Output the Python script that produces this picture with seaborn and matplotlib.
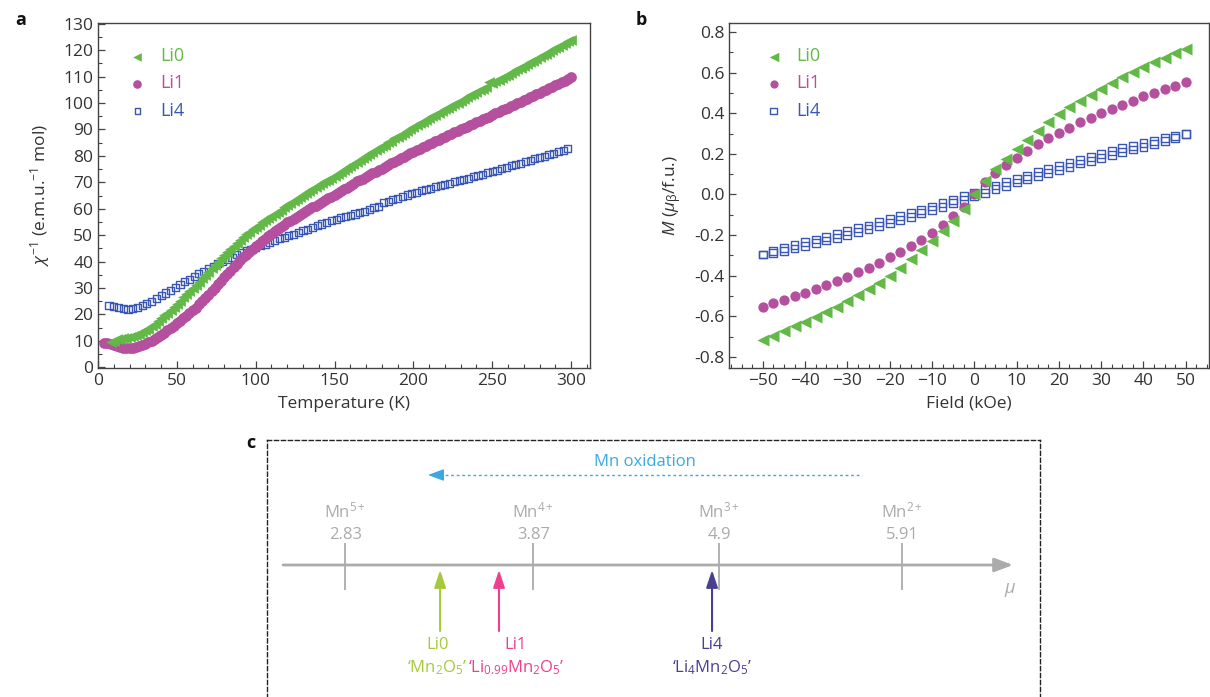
import numpy as np
import pandas as pd
import seaborn as sns
import matplotlib.pyplot as plt
import matplotlib.ticker as mticker

########## Data ##########

# panel a : inverse susceptibility vs temperature
temp_li0 = np.arange(8, 301, 2)
chi_li0 = [9.5, 10.1, 10.6, 10.8, 10.9, 11.1, 11.3, 11.7, 12.2, 12.7, 13.3, 13.9, 14.6, 15.5, 16.4,
           17.4, 18.5, 19.6, 20.6, 21.6, 22.8, 24.0, 25.2, 26.4, 27.6, 28.8, 30.0, 31.2, 32.4, 33.6,
           34.9, 36.2, 37.5, 38.8, 40.0, 41.2, 42.4, 43.6, 44.8, 46.0, 47.1, 48.2, 49.3, 50.3, 51.3,
           52.2, 53.1, 54.0, 54.8, 55.7, 56.5, 57.3, 58.1, 58.9, 59.7, 60.5, 61.3, 62.1, 62.8, 63.6,
           64.4, 65.1, 65.9, 66.6, 67.4, 68.1, 68.9, 69.6, 70.3, 71.0, 71.8, 72.5, 73.2, 74.0, 74.7,
           75.4, 76.2, 76.9, 77.7, 78.4, 79.2, 79.9, 80.6, 81.4, 82.1, 82.8, 83.6, 84.3, 85.1, 85.8,
           86.6, 87.3, 88.0, 88.8, 89.5, 90.2, 91.0, 91.6, 92.3, 93.0, 93.6, 94.3, 95.0, 95.6, 96.3,
           96.9, 97.6, 98.3, 98.9, 99.6, 100.2, 100.9, 101.6, 102.2, 102.9, 103.5, 104.2, 104.9,
           105.5, 106.2, 107.8, 107.5, 108.2, 108.8, 109.5, 110.1, 110.8, 111.5, 112.1, 112.8,
           113.4, 114.1, 114.8, 115.4, 116.1, 116.7, 117.4, 118.1, 118.7, 119.4, 120.0, 120.7,
           121.4, 122.0, 122.7, 123.3, 124.0]

temp_li1 = np.arange(4, 301, 2)
chi_li1 = [9.0, 9.1, 8.9, 8.5, 8.0, 7.6, 7.4, 7.3, 7.3, 7.4, 7.6, 8.0, 8.4, 8.9, 9.5, 10.1, 10.8,
           11.5, 12.2, 13.0, 13.9, 14.8, 15.7, 16.6, 17.6, 18.5, 19.5, 20.5, 21.5, 22.6, 23.8, 25.0,
           26.2, 27.5, 28.8, 30.1, 31.4, 32.7, 34.0, 35.3, 36.6, 37.9, 39.2, 40.4, 41.6, 42.6, 43.6,
           44.7, 45.8, 46.8, 47.8, 48.7, 49.6, 50.5, 51.4, 52.3, 53.2, 54.0, 54.8, 55.5, 56.2, 57.0,
           57.7, 58.4, 59.1, 59.8, 60.5, 61.2, 61.9, 62.6, 63.3, 64.0, 64.6, 65.3, 66.0, 66.6, 67.3,
           68.0, 68.7, 69.4, 70.5, 70.7, 71.4, 72.0, 72.7, 73.4, 74.0, 74.6, 75.2, 75.9, 76.5, 77.2,
           77.8, 78.5, 79.1, 79.7, 80.3, 80.9, 81.5, 82.1, 82.7, 83.3, 83.8, 84.4, 84.9, 85.5, 86.0,
           86.6, 87.2, 87.8, 88.3, 88.9, 89.4, 90.0, 90.5, 91.1, 91.6, 92.2, 92.7, 93.3, 93.8, 94.4,
           94.9, 95.5, 96.1, 96.7, 97.2, 97.8, 98.3, 98.9, 99.4, 100.0, 100.5, 101.1, 101.6, 102.2,
           102.8, 103.4, 103.9, 104.5, 105.0, 105.6, 106.1, 106.7, 107.3, 107.9, 108.5, 109.1, 109.8]

temp_li4 = np.arange(7, 299, 3)
chi_li4 = [23.2, 23.0, 22.6, 22.2, 22.0, 22.1, 22.6, 23.2, 24.0, 25.0, 26.0, 27.0, 28.1, 29.2, 30.3,
           31.3, 32.3, 33.3, 34.3, 35.3, 36.3, 37.3, 38.2, 39.1, 40.0, 40.9, 41.7, 42.5, 43.3, 44.0,
           44.7, 45.3, 45.9, 46.6, 47.3, 47.9, 48.6, 49.2, 49.8, 50.4, 51.1, 51.7, 52.3, 53.0, 53.6,
           54.2, 54.8, 55.4, 56.0, 56.5, 57.0, 57.5, 58.0, 58.5, 59.0, 59.6, 60.3, 61.0, 62.2, 62.8,
           63.4, 64.0, 64.6, 65.2, 65.8, 66.3, 66.8, 67.3, 67.8, 68.3, 68.7, 69.2, 69.7, 70.2, 70.6,
           71.1, 71.6, 72.1, 72.6, 73.1, 73.6, 74.0, 74.6, 75.1, 75.6, 76.2, 76.7, 77.2, 77.8, 78.3,
           78.9, 79.4, 79.9, 80.5, 81.0, 81.6, 82.1, 82.7]

# panel b : magnetisation vs field
field = np.arange(-50, 50.1, 2.5)
m_li0 = [-0.715, -0.695, -0.675, -0.65, -0.63, -0.605, -0.58, -0.555, -0.525, -0.495, -0.465,
         -0.435, -0.4, -0.36, -0.32, -0.275, -0.23, -0.18, -0.13, -0.07, 0.0, 0.065, 0.125, 0.175,
         0.225, 0.27, 0.315, 0.355, 0.395, 0.43, 0.46, 0.49, 0.52, 0.55, 0.58, 0.605, 0.63, 0.655,
         0.675, 0.695, 0.715]
m_li1 = [-0.553, -0.537, -0.52, -0.502, -0.483, -0.465, -0.447, -0.427, -0.405, -0.383, -0.36,
         -0.336, -0.31, -0.283, -0.255, -0.222, -0.19, -0.148, -0.105, -0.06, 0.0, 0.06, 0.105,
         0.145, 0.18, 0.215, 0.25, 0.278, 0.304, 0.33, 0.355, 0.378, 0.40, 0.423, 0.443, 0.463,
         0.483, 0.502, 0.52, 0.537, 0.553]
m_li4_up = [-0.296, -0.279, -0.265, -0.25, -0.236, -0.222, -0.209, -0.196, -0.181, -0.167, -0.153,
            -0.137, -0.121, -0.106, -0.091, -0.075, -0.059, -0.043, -0.026, -0.009, 0.009, 0.027,
            0.044, 0.061, 0.077, 0.093, 0.109, 0.124, 0.139, 0.155, 0.171, 0.185, 0.199, 0.214,
            0.227, 0.239, 0.252, 0.265, 0.279, 0.29, 0.296]
m_li4_down = [-0.296, -0.29, -0.279, -0.266, -0.252, -0.238, -0.227, -0.214, -0.199, -0.185, -0.171,
              -0.155, -0.139, -0.124, -0.109, -0.093, -0.077, -0.061, -0.044, -0.027, -0.009, 0.009,
              0.026, 0.043, 0.059, 0.075, 0.091, 0.106, 0.121, 0.137, 0.153, 0.167, 0.181, 0.196,
              0.209, 0.222, 0.236, 0.25, 0.265, 0.279, 0.296]

# panel c : effective moment scale
mn_labels = ["Mn$^{5+}$", "Mn$^{4+}$", "Mn$^{3+}$", "Mn$^{2+}$"]
mn_mu = [2.83, 3.87, 4.9, 5.91]
sample_names = ["Li0", "Li1", "Li4"]
sample_formulas = ["\u2018Mn$_2$O$_5$\u2019", "\u2018Li$_{0.99}$Mn$_2$O$_5$\u2019", "\u2018Li$_4$Mn$_2$O$_5$\u2019"]
sample_mu = [3.354, 3.680, 4.859]

########## Style ##########

sns.set_theme(style="ticks")
plt.rcParams['font.family'] = ['Open Sans', 'DejaVu Sans']
plt.rcParams['mathtext.fontset'] = 'custom'
plt.rcParams['mathtext.rm'] = 'Open Sans'
plt.rcParams['mathtext.it'] = 'Open Sans:italic'
plt.rcParams['mathtext.bf'] = 'Open Sans:bold'

text_col = "#333333"
green = "#62b947"
magenta = "#b5509f"
blue = "#3a58b3"
grey = "#ababab"
c_li0 = "#a5c93a"
c_li1 = "#ee3f8f"
c_li4 = "#4a3f8e"
ox_blue = "#3aa9e2"
fs = 12.5

fig = plt.figure(figsize=(12.1, 6.97), dpi=100)
W, H = 1210, 697

def px_axes(l, t, r, b):
    return fig.add_axes([l / W, 1 - b / H, (r - l) / W, (b - t) / H])

def style_axes(ax):
    for s in ax.spines.values():
        s.set_color("#444444")
        s.set_linewidth(1.0)
    ax.tick_params(which='both', direction='in', top=False, right=False, colors="#444444",
                   labelcolor=text_col, labelsize=fs)
    ax.tick_params(which='major', length=5, width=0.9)
    ax.tick_params(which='minor', length=3, width=0.8)

def color_legend(ax, handles, labels, x0, colors):
    leg = ax.legend(handles, labels, loc='upper left', bbox_to_anchor=(x0, 0.95), frameon=False,
                    fontsize=13, handletextpad=0.75, labelspacing=0.5, borderaxespad=0,
                    handlelength=1.0, markerscale=0.8)
    for txt, c in zip(leg.get_texts(), colors):
        txt.set_color(c)

########## Panel a ##########

ax_a = px_axes(98, 23, 590, 368)
sns.scatterplot(x=temp_li4, y=chi_li4, ax=ax_a, marker='s', s=26, facecolor='none',
                edgecolor=blue, linewidth=1.0, label="Li4", zorder=2)
sns.scatterplot(x=temp_li1, y=chi_li1, ax=ax_a, marker='o', s=60, color=magenta,
                linewidth=0, label="Li1", zorder=3)
sns.scatterplot(x=temp_li0, y=chi_li0, ax=ax_a, marker='<', s=60, color=green,
                linewidth=0, label="Li0", zorder=4)
ax_a.set_xlim(0, 312)
ax_a.set_ylim(-0.3, 130.3)
ax_a.xaxis.set_major_locator(mticker.MultipleLocator(50))
ax_a.xaxis.set_minor_locator(mticker.MultipleLocator(10))
ax_a.yaxis.set_major_locator(mticker.MultipleLocator(10))
ax_a.yaxis.set_minor_locator(mticker.MultipleLocator(5))
style_axes(ax_a)
ax_a.set_xlabel("Temperature (K)", fontsize=fs, color=text_col, labelpad=5)
ax_a.set_ylabel(r"$\chi^{-1}$ (e.m.u.$^{-1}$ mol)", fontsize=fs, color=text_col, labelpad=8)
handles, labels = ax_a.get_legend_handles_labels()
color_legend(ax_a, handles[::-1], labels[::-1], 0.047, [green, magenta, blue])

########## Panel b ##########

ax_b = px_axes(729, 23, 1209, 368)
sns.scatterplot(x=field, y=m_li0, ax=ax_b, marker='<', s=75, color=green,
                linewidth=0, label="Li0", zorder=4)
sns.scatterplot(x=field, y=m_li1, ax=ax_b, marker='o', s=55, color=magenta,
                linewidth=0, label="Li1", zorder=3)
sns.scatterplot(x=field, y=m_li4_up, ax=ax_b, marker='s', s=32, facecolor='none',
                edgecolor=blue, linewidth=1.0, label="Li4", zorder=2)
sns.scatterplot(x=field, y=m_li4_down, ax=ax_b, marker='s', s=32, facecolor='none',
                edgecolor=blue, linewidth=1.0, zorder=2)
ax_b.set_xlim(-58, 55.5)
ax_b.set_ylim(-0.855, 0.845)
ax_b.xaxis.set_major_locator(mticker.MultipleLocator(10))
ax_b.xaxis.set_minor_locator(mticker.MultipleLocator(2.5))
ax_b.yaxis.set_major_locator(mticker.MultipleLocator(0.2))
ax_b.yaxis.set_minor_locator(mticker.MultipleLocator(0.1))
ax_b.yaxis.set_major_formatter(mticker.FormatStrFormatter('%.1f'))
style_axes(ax_b)
ax_b.set_xlabel("Field (kOe)", fontsize=fs, color=text_col, labelpad=5)
ax_b.set_ylabel(r"$\mathit{M}$ ($\mu_{\mathrm{\beta}}$/f.u.)", fontsize=fs, color=text_col, labelpad=8)
handles, labels = ax_b.get_legend_handles_labels()
color_legend(ax_b, handles, labels, 0.059, [green, magenta, blue])

########## Panel c ##########

# x in units of mu, y in pixel rows of the panel
ax_c = px_axes(267, 440, 1040, 745)
ax_c.set_xlim(2.396, 6.674)
ax_c.set_ylim(745, 440)
ax_c.set_xticks([])
ax_c.set_yticks([])
for s in ax_c.spines.values():
    s.set_linestyle((0, (3, 2)))
    s.set_linewidth(1.0)
    s.set_color("#222222")

# number line
ax_c.annotate("", xy=(6.525, 565), xytext=(2.485, 565),
              arrowprops=dict(arrowstyle='-|>,head_width=0.3,head_length=0.8', color=grey,
                              lw=2.0, mutation_scale=14, shrinkA=0, shrinkB=0))
ax_c.vlines(mn_mu, 543, 590, color=grey, lw=1.3)
for lab, mu in zip(mn_labels, mn_mu):
    ax_c.text(mu, 511, lab, ha='center', va='center', fontsize=12, color=grey)
    ax_c.text(mu, 535, f"{mu:g}", ha='center', va='center', fontsize=12, color=grey)
ax_c.text(6.508, 590, r"$\mu$", ha='center', va='center', fontsize=13, color=grey)

# Mn oxidation arrow
ax_c.plot([3.32, 5.689], [475, 475], color=ox_blue, lw=1.0, ls=(0, (2, 2)))
ax_c.annotate("", xy=(3.287, 475), xytext=(3.36, 475),
              arrowprops=dict(arrowstyle='-|>,head_width=0.3,head_length=0.8', color=ox_blue,
                              lw=1.0, mutation_scale=12, shrinkA=0, shrinkB=0))
ax_c.text(4.489, 462, "Mn oxidation", ha='center', va='center', fontsize=12, color=ox_blue)

# sample arrows
sample_colors = [c_li0, c_li1, c_li4]
label_mu = [3.339, 3.774, 4.859]
for name, form, mu, lmu, c in zip(sample_names, sample_formulas, sample_mu, label_mu, sample_colors):
    ax_c.annotate("", xy=(mu, 570), xytext=(mu, 631),
                  arrowprops=dict(arrowstyle='-|>,head_width=0.25,head_length=0.75', color=c,
                                  lw=1.5, mutation_scale=14, shrinkA=0, shrinkB=0))
    ax_c.text(lmu, 645, name, ha='center', va='center', fontsize=12, color=c)
    ax_c.text(lmu, 668, form, ha='center', va='center', fontsize=12, color=c)

########## Panel letters ##########

fig.text(15 / W, 1 - 20 / H, "a", fontsize=13, fontweight='bold', color="#111111", va='center')
fig.text(636 / W, 1 - 20 / H, "b", fontsize=13, fontweight='bold', color="#111111", va='center')
fig.text(246 / W, 1 - 443 / H, "c", fontsize=13, fontweight='bold', color="#111111", va='center')

fig.savefig("out.png", dpi=100)
